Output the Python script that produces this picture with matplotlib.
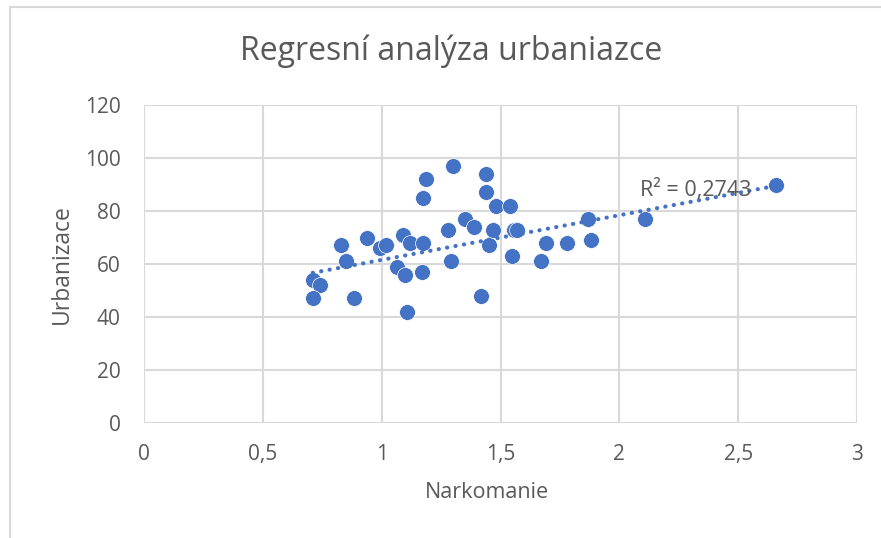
import numpy as np
import matplotlib
matplotlib.use("Agg")
import matplotlib.pyplot as plt
from matplotlib.lines import Line2D

narkomanie = [0.71, 0.74, 0.71, 0.83, 0.85, 0.885, 0.94, 0.995, 1.02, 1.09,
              1.12, 1.065, 1.10, 1.105, 1.175, 1.17, 1.175, 1.185, 1.28, 1.29,
              1.30, 1.35, 1.39, 1.44, 1.44, 1.45, 1.47, 1.48, 1.42, 1.54,
              1.55, 1.555, 1.57, 1.67, 1.69, 1.78, 1.87, 1.88, 2.11, 2.66]
urbanizace = [54, 52, 47, 67, 61, 47, 70, 66, 67, 71,
              68, 59, 56, 42, 68, 57, 85, 92, 73, 61,
              97, 77, 74, 94, 87, 67, 73, 82, 48, 82,
              63, 73, 73, 61, 68, 68, 77, 69, 77, 90]
# linear trendline as shown in the picture
trend_slope = 16.85
trend_intercept = 44.7
x_ticks = [0, 0.5, 1, 1.5, 2, 2.5, 3]
x_tick_labels = ["0", "0,5", "1", "1,5", "2", "2,5", "3"]
y_ticks = [0, 20, 40, 60, 80, 100, 120]
title = "Regresní analýza urbaniazce"
x_label = "Narkomanie"
y_label = "Urbanizace"
r2_text = "R² = 0,2743"

plt.rcParams['font.family'] = ['Open Sans', 'DejaVu Sans']
text_color = "#595959"
grid_color = "#d9d9d9"
blue = "#4472C4"

fig = plt.figure(figsize=(8.81, 5.38), dpi=100)
ax = fig.add_axes([144/881, 1-423/538, (857-144)/881, (423-105)/538])

ax.set_xlim(0, 3)
ax.set_ylim(0, 120)
ax.set_xticks(x_ticks)
ax.set_xticklabels(x_tick_labels)
ax.set_yticks(y_ticks)
ax.grid(True, color=grid_color, linewidth=1.5, zorder=0)
ax.set_axisbelow(True)
for s in ax.spines.values():
    s.set_visible(False)
ax.tick_params(length=0, labelsize=15, labelcolor=text_color)
ax.tick_params(axis="y", pad=17)
ax.tick_params(axis="x", pad=15)

ax.scatter(narkomanie, urbanizace, s=130, color=blue, edgecolors="white",
           linewidths=0.5, zorder=3)

xa = np.array(narkomanie)
xl = np.array([xa.min(), xa.max()])
ax.plot(xl, trend_slope*xl + trend_intercept, color=blue, linewidth=3.0,
        linestyle=(0, (0.05, 2.0)), dash_capstyle="round", zorder=4)

ax.text(2.32, 88, r2_text, fontsize=15.5, color=text_color, ha="center",
        va="center", zorder=5)

fig.text(487/881, 1-493/538, x_label, fontsize=15.5, color=text_color,
         ha="center", va="center")
fig.text(62/881, 1-264/538, y_label, fontsize=16.5, color=text_color,
         ha="center", va="center", rotation=90)
fig.text(451/881, 1-51/538, title, fontsize=23, color=text_color,
         ha="center", va="center")

# chart frame (cropped)
fig.add_artist(Line2D([10/881, 1.0], [1-7/538, 1-7/538], color=grid_color,
                      linewidth=1.5, transform=fig.transFigure))
fig.add_artist(Line2D([10/881, 10/881], [0, 1-7/538], color=grid_color,
                      linewidth=1.5, transform=fig.transFigure))

fig.savefig("out.png", dpi=100)
